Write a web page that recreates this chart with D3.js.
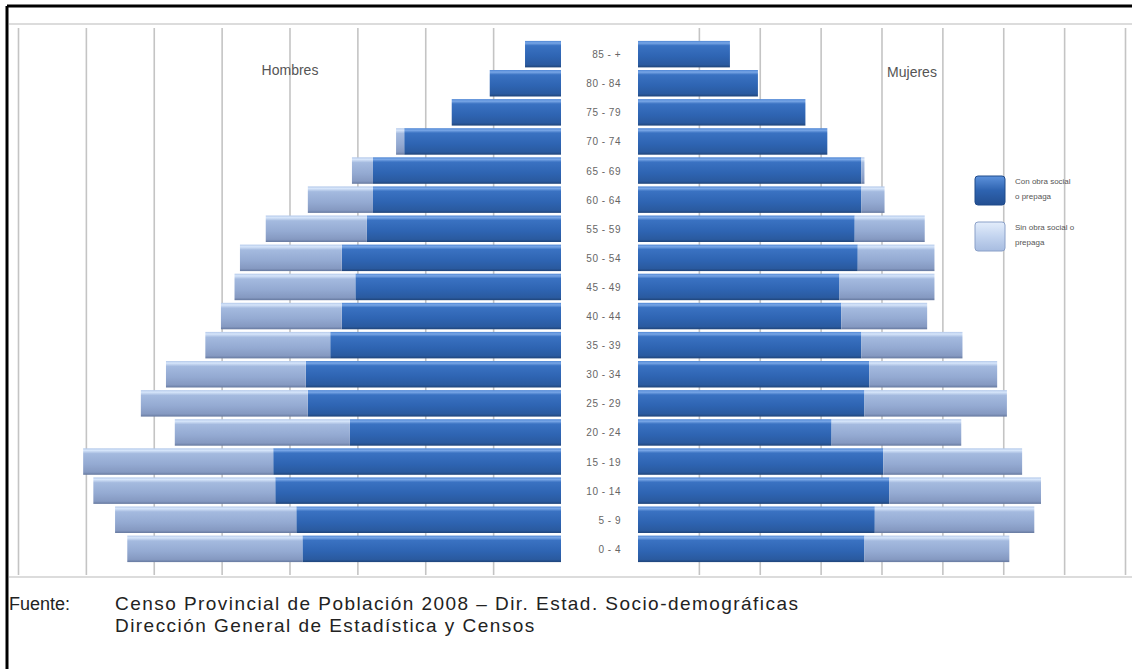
<!DOCTYPE html>
<html>
<head>
<meta charset="utf-8">
<script src="https://cdn.jsdelivr.net/npm/d3@7/dist/d3.min.js"></script>
<style>
  html, body { margin: 0; padding: 0; background: #fff; }
  svg { display: block; font-family: "Liberation Sans", Arial, sans-serif; }
</style>
</head>
<body>
<svg id="chart" width="1132" height="669"></svg>
<script>
// Age groups, oldest at the top
const ageGroups = ["85 - +", "80 - 84", "75 - 79", "70 - 74", "65 - 69", "60 - 64",
  "55 - 59", "50 - 54", "45 - 49", "40 - 44", "35 - 39", "30 - 34", "25 - 29",
  "20 - 24", "15 - 19", "10 - 14", "5 - 9", "0 - 4"];

// Hombres (thousands): with / without health coverage
const menWith    = [0.53, 1.05, 1.61, 2.31, 2.77, 2.77, 2.86, 3.23, 3.03, 3.23, 3.40, 3.76, 3.73, 3.11, 4.24, 4.21, 3.90, 3.81];
const menWithout = [0.00, 0.00, 0.00, 0.12, 0.31, 0.96, 1.49, 1.50, 1.78, 1.78, 1.84, 2.06, 2.46, 2.58, 2.80, 2.68, 2.67, 2.58];

// Mujeres (thousands): with / without health coverage
const womenWith    = [1.51, 1.97, 2.75, 3.11, 3.67, 3.67, 3.56, 3.61, 3.31, 3.34, 3.67, 3.80, 3.72, 3.18, 4.03, 4.13, 3.89, 3.72];
const womenWithout = [0.00, 0.00, 0.00, 0.00, 0.05, 0.38, 1.15, 1.26, 1.56, 1.41, 1.66, 2.10, 2.34, 2.13, 2.28, 2.49, 2.62, 2.38];

const gridValues = [1, 2, 3, 4, 5, 6, 7, 8];
const legendLabels = [["Con obra social", "o prepaga"], ["Sin obra social o", "prepaga"]];
const sideTitles = ["Hombres", "Mujeres"];
const sourceLines = ["Censo Provincial de Población 2008 – Dir. Estad. Socio-demográficas",
                     "Dirección General de Estadística y Censos"];

const svg = d3.select("#chart");

// Gradients for the shaded bars
const defs = svg.append("defs");
function grad(id, stops) {
  const g = defs.append("linearGradient").attr("id", id)
    .attr("x1", 0).attr("y1", 0).attr("x2", 0).attr("y2", 1);
  stops.forEach(s => g.append("stop").attr("offset", s[0]).attr("stop-color", s[1]));
}
grad("gDark", [[0, "#4f86d4"], [0.08, "#78a6e6"], [0.18, "#3a72c2"], [0.6, "#2e64b2"], [0.9, "#2a5a9f"], [1, "#1f4479"]]);
grad("gLight", [[0, "#b4c9ea"], [0.08, "#d6e5fa"], [0.2, "#a4badf"], [0.6, "#94aad2"], [0.9, "#8599c1"], [1, "#66799f"]]);
grad("gDarkLeg", [[0, "#5d92dc"], [0.5, "#2e63b0"], [1, "#234f91"]]);
grad("gLightLeg", [[0, "#e3edfb"], [0.5, "#c3d4ef"], [1, "#a7bce0"]]);

// Outer frame (top and left edges)
svg.append("line").attr("x1", 7).attr("x2", 1132).attr("y1", 6).attr("y2", 6)
  .attr("stroke", "#000").attr("stroke-width", 3);
svg.append("line").attr("x1", 7).attr("x2", 7).attr("y1", 6).attr("y2", 669)
  .attr("stroke", "#000").attr("stroke-width", 3);

// Plot area edges
[24, 577].forEach(y => {
  svg.append("line").attr("x1", 9).attr("x2", 1132).attr("y1", y).attr("y2", y)
    .attr("stroke", "#dcdcdc").attr("stroke-width", 2);
});

// Scales
const y = d3.scaleBand().domain(ageGroups).range([39.6, 563.4]).paddingInner(0.09).paddingOuter(0.045);
const xL = d3.scaleLinear().domain([0, 8]).range([561, 18]);
const xR = d3.scaleLinear().domain([0, 8]).range([638, 1125]);

// Vertical gridlines
const gridTop = 28, gridBottom = 575;
const gL = svg.append("g").attr("transform", `translate(0,${gridBottom})`)
  .call(d3.axisBottom(xL).tickValues(gridValues).tickSize(-(gridBottom - gridTop)).tickFormat(""));
const gR = svg.append("g").attr("transform", `translate(0,${gridBottom})`)
  .call(d3.axisBottom(xR).tickValues(gridValues).tickSize(-(gridBottom - gridTop)).tickFormat(""));
[gL, gR].forEach(g => {
  g.select(".domain").remove();
  g.selectAll(".tick line").attr("stroke", "#c4c4c4").attr("stroke-width", 1.6);
});

// Side titles
svg.append("text").attr("x", 290).attr("y", 75).attr("text-anchor", "middle")
  .attr("font-size", 14).attr("fill", "#555").text(sideTitles[0]);
svg.append("text").attr("x", 912).attr("y", 77).attr("text-anchor", "middle")
  .attr("font-size", 14).attr("fill", "#555").text(sideTitles[1]);

const bh = y.bandwidth();

// Hombres bars
const men = ageGroups.map((a, i) => ({ a, w: menWith[i], s: menWithout[i] }));
svg.append("g").selectAll("rect.mw").data(men).join("rect")
  .attr("x", d => xL(d.w)).attr("width", d => xL(0) - xL(d.w))
  .attr("y", d => y(d.a)).attr("height", bh).attr("fill", "url(#gDark)");
svg.append("g").selectAll("rect.ms").data(men.filter(d => d.s > 0)).join("rect")
  .attr("x", d => xL(d.w + d.s)).attr("width", d => xL(d.w) - xL(d.w + d.s))
  .attr("y", d => y(d.a)).attr("height", bh).attr("fill", "url(#gLight)");

// Mujeres bars
const women = ageGroups.map((a, i) => ({ a, w: womenWith[i], s: womenWithout[i] }));
svg.append("g").selectAll("rect.ww").data(women).join("rect")
  .attr("x", xR(0)).attr("width", d => xR(d.w) - xR(0))
  .attr("y", d => y(d.a)).attr("height", bh).attr("fill", "url(#gDark)");
svg.append("g").selectAll("rect.ws").data(women.filter(d => d.s > 0)).join("rect")
  .attr("x", d => xR(d.w)).attr("width", d => xR(d.w + d.s) - xR(d.w))
  .attr("y", d => y(d.a)).attr("height", bh).attr("fill", "url(#gLight)");

// Age labels in the centre column
svg.append("g").selectAll("text").data(ageGroups).join("text")
  .attr("x", 621).attr("y", d => y(d) + bh / 2 + 4).attr("text-anchor", "end")
  .attr("font-size", 10).attr("fill", "#666").attr("letter-spacing", 0.5).text(d => d);

// Legend
const legend = svg.append("g").attr("transform", "translate(975,176)");
["url(#gDarkLeg)", "url(#gLightLeg)"].forEach((f, i) => {
  const g = legend.append("g").attr("transform", `translate(0,${i * 46})`);
  g.append("rect").attr("width", 30).attr("height", 29).attr("rx", 3)
    .attr("fill", f).attr("stroke", i ? "#8aa0c8" : "#1f4a8a").attr("stroke-width", 1);
  legendLabels[i].forEach((t, j) => {
    g.append("text").attr("x", 40).attr("y", 8 + j * 15).attr("font-size", 8)
      .attr("fill", "#555").text(t);
  });
});

// Source note
const foot = svg.append("g").attr("fill", "#222");
foot.append("text").attr("x", 9).attr("y", 610).attr("font-size", 18).text("Fuente:");
foot.selectAll("text.src").data(sourceLines).join("text").attr("class", "src")
  .attr("x", 115).attr("y", (d, i) => 610 + i * 22)
  .attr("font-size", 19).attr("letter-spacing", 1.45).text(d => d);
</script>
</body>
</html>
